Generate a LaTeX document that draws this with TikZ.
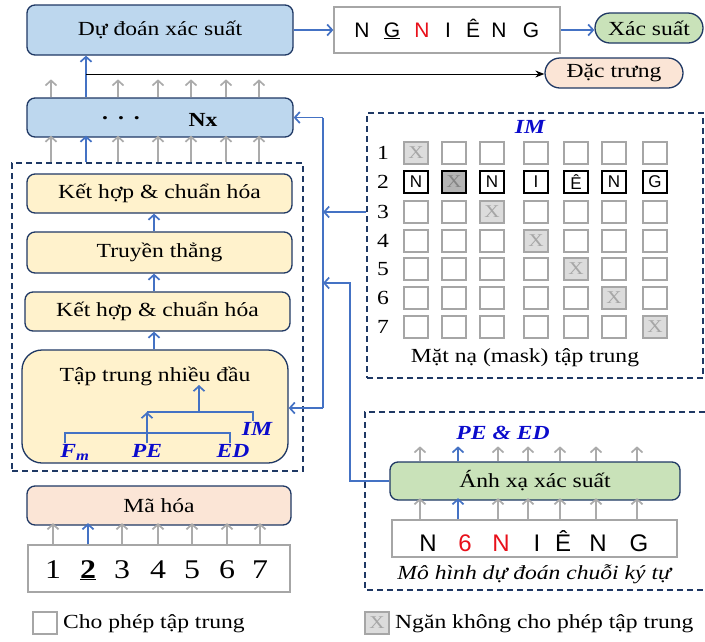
\documentclass[tikz,border=0pt]{standalone}
\usepackage{fontspec}
\setmainfont{Liberation Serif}[FakeStretch=1.18]
\newfontfamily\arial{Liberation Sans}
\usetikzlibrary{arrows.meta,calc}

\definecolor{navy}{HTML}{1F3864}
\definecolor{lblue}{HTML}{BDD7EE}
\definecolor{lyellow}{HTML}{FFF2CC}
\definecolor{lgreen}{HTML}{C9E2B9}
\definecolor{lpeach}{HTML}{FBE5D6}
\definecolor{arrblue}{HTML}{4472C4}
\definecolor{arrgray}{HTML}{ABABAB}
\definecolor{lblblue}{HTML}{0B0BCC}
\definecolor{boxgray}{HTML}{A6A6A6}
\definecolor{xfill}{HTML}{DCDCDC}
\definecolor{xdark}{HTML}{B4B4B4}
\definecolor{xtext}{HTML}{858585}
\definecolor{seqred}{HTML}{E8101A}

\begin{document}
\begin{tikzpicture}[x=1pt,y=-1pt,
  font=\fontsize{20}{24}\selectfont,
  block/.style={draw=navy, line width=1.3pt, rounded corners=8pt, inner sep=0pt},
  bluebox/.style={block, fill=lblue},
  yellowbox/.style={block, fill=lyellow},
  greenbox/.style={block, fill=lgreen},
  peachbox/.style={block, fill=lpeach},
  graybox/.style={draw=boxgray, line width=1.3pt, fill=white, inner sep=0pt},
  dashbox/.style={draw=navy, line width=1.5pt, dash pattern=on 6pt off 4pt},
  tipb/.style={-{Straight Barb[length=5pt,width=11pt]}},
  garr/.style={draw=arrgray, line width=1.7pt, tipb},
  barr/.style={draw=arrblue, line width=1.7pt, tipb},
  bline/.style={draw=arrblue, line width=1.7pt},
  kline/.style={draw=black, line width=1pt, -{Stealth[length=9pt,width=7pt]}},
  lbl/.style={text=lblblue, inner sep=1pt, font=\fontsize{20}{24}\selectfont\bfseries\itshape},
  cell/.style={draw=boxgray, line width=1.3pt, minimum width=24pt, minimum height=22pt, inner sep=0pt},
  xcell/.style={cell, fill=xfill, text=boxgray, font=\fontsize{18}{18}\selectfont},
  lcell/.style={draw=black, line width=1.6pt, minimum width=24pt, minimum height=22pt, inner sep=0pt,
                font=\arial\fontsize{17}{17}\selectfont},
  rownum/.style={inner sep=0pt}
]
\useasboundingbox (0,0) rectangle (705,641);

% ---------- top: prediction and outputs ----------
\node[bluebox, minimum width=266pt, minimum height=50pt] (pred) at (160,30) {Dự đoán xác suất};
\node[graybox, minimum width=226pt, minimum height=46pt] (seq1) at (447,30) {};
\foreach \x/\t [count=\i] in {362/N, 392/\underline{G}, 422/\textcolor{seqred}{N}, 448/I, 473/Ê, 499/N, 531/G}
  \node[anchor=base, inner sep=0pt, font=\arial\fontsize{21}{21}\selectfont] (s1\i) at (\x,37) {\t};
\node[greenbox, rounded corners=15pt, minimum width=108pt, minimum height=30pt] (prob) at (649,28) {Xác suất};
\node[peachbox, rounded corners=15pt, minimum width=138pt, minimum height=30pt] (feat) at (614,73) {Đặc trưng};

\draw[barr] (pred.east) -- (seq1.west);
\draw[barr] (seq1.east) -- (seq1.east -| prob.west);

% ---------- stacked layers ----------
\node[bluebox, minimum width=266pt, minimum height=39pt] (nx) at (160,117.5) {};
\node[inner sep=0pt] (dots) at (121,118) {\textbf{.\hspace{10pt}.\hspace{10pt}.}};
\node[inner sep=0pt] (nxl) at (203,120) {\textbf{Nx}};

\node[dashbox, minimum width=291pt, minimum height=308pt] (layer) at (157.5,317) {};
\node[yellowbox, minimum width=265pt, minimum height=39pt] (kh1) at (159.5,193.5) {Kết hợp \& chuẩn hóa};
\node[yellowbox, minimum width=265pt, minimum height=41pt] (tt)  at (159.5,252.5) {Truyền thẳng};
\node[yellowbox, minimum width=265pt, minimum height=39pt] (kh2) at (157.5,311.5) {Kết hợp \& chuẩn hóa};
\node[yellowbox, rounded corners=20pt, minimum width=266pt, minimum height=113pt] (mha) at (155,406.5) {};
\node[inner sep=1pt] (mhat) at (155,376) {Tập trung nhiều đầu};

\coordinate (mid) at (154,0);
\draw[barr] (tt.north -| mid) -- (kh1.south -| mid);
\draw[barr] (kh2.north -| mid) -- (tt.south -| mid);
\draw[barr] (mha.north -| mid) -- (kh2.south -| mid);

% inputs of the attention block
\node[lbl] (fm) at (75,452) {F\textsubscript{m}};
\node[lbl] (pe) at (147,451) {PE};
\node[lbl] (ed) at (233,451) {ED};
\node[lbl] (iml) at (257,429) {IM};
\coordinate (t1) at (65,433);
\coordinate (t2) at (230,433);
\coordinate (t3) at (147,412);
\coordinate (t4) at (253,412);
\coordinate (t5) at (199,412);
\coordinate (t6) at (199,385);
\draw[bline] (t1 |- fm.north) -- (t1) -- (t2) -- (t2 |- ed.north);
\draw[barr] (pe.north) -- (t3);
\draw[bline] (t3) -- (t4) -- (t4 |- iml.north);
\draw[barr] (t5) -- (t6);

% column arrows around the stack
\foreach \x [count=\i] in {51,86,118,158,191,226,259}
  \coordinate (L\i) at (\x,0);
\foreach \i in {1,3,4,5,6,7} {
  \draw[garr] (layer.north -| L\i) -- ([yshift=2pt]nx.south -| L\i);
  \draw[garr] (nx.north -| L\i) -- ($(nx.north -| L\i)+(0,-18)$);
}
\draw[barr] (layer.north -| L2) -- ([yshift=2pt]nx.south -| L2);
\draw[barr] (nx.north -| L2) -- (pred.south -| L2);
\coordinate (fb) at (86,74);
\draw[kline] (fb) -- (fb -| feat.west);

% ---------- encoding of positions ----------
\node[peachbox, minimum width=264pt, minimum height=39pt] (enc) at (159,505.5) {Mã hóa};
\node[graybox, minimum width=262pt, minimum height=47pt] (numbox) at (159,568.5) {};
\foreach \x/\t [count=\i] in {53/1, 88/\underline{\textbf{2}}, 122/3, 158/4, 192/5, 227/6, 260/7} {
  \coordinate (E\i) at (\x,0);
  \node[anchor=base, inner sep=0pt, font=\fontsize{27}{27}\selectfont] (d\i) at (\x,578) {\t};
}
\foreach \i in {1,3,4,5,6,7}
  \draw[garr] (numbox.north -| E\i) -- ([yshift=2.5pt]enc.south -| E\i);
\draw[barr] (numbox.north -| E2) -- ([yshift=2.5pt]enc.south -| E2);

% ---------- attention mask ----------
\node[dashbox, minimum width=336pt, minimum height=265pt] (imbox) at (535,245.5) {};
\node[lbl] (imt) at (530,127) {IM};
\foreach \y [count=\r] in {153,182,212,241,269,298,327} {
  \node[rownum] (rn\r) at (383,\y) {\r};
  \foreach \x [count=\c] in {416,454,492,536,576,614,655} {
    \ifnum\r=2\relax
    \else
      \ifnum\c=\r\relax
        \node[xcell] (g\r-\c) at (\x,\y) {X};
      \else
        \node[cell] (g\r-\c) at (\x,\y) {};
      \fi
    \fi
  }
}
\foreach \x/\t [count=\c] in {416/N, 536/I, 576/Ê, 614/N, 655/G, 492/N}
  \node[lcell] (r2l\c) at (\x,182) {\t};
\node[lcell, fill=xdark, text=xtext, font=\fontsize{18}{18}\selectfont] (r2x) at (454,182) {X};
\node[inner sep=0pt] (masktxt) at (525,358) {Mặt nạ (mask) tập trung};

% ---------- character sequence model ----------
\draw[dashbox] (705,412) -- (365,412) -- (365,590) -- (705,590);
\node[lbl] (peed) at (503,433) {PE \& ED};
\node[greenbox, minimum width=290pt, minimum height=38pt] (map) at (535,481) {Ánh xạ xác suất};
\node[graybox, minimum width=285pt, minimum height=37pt] (seq2) at (534.5,538.5) {};
\foreach \x/\t [count=\i] in {428/N, 465/\textcolor{seqred}{6}, 501/\textcolor{seqred}{N}, 537/I, 563/Ê, 598/N, 639/G}
  \node[anchor=base, inner sep=0pt, font=\arial\fontsize{24}{24}\selectfont] (s2\i) at (\x,551) {\t};
\node[inner sep=0pt] (seqtxt) at (535,574) {\textit{Mô hình dự đoán chuỗi ký tự}};
\foreach \x [count=\i] in {420,458,498,528,560,596,637}
  \coordinate (M\i) at (\x,0);
\foreach \i in {1,3,4,5,6,7} {
  \draw[garr] (seq2.north -| M\i) -- ([yshift=2.5pt]map.south -| M\i);
  \draw[garr] (map.north -| M\i) -- ($(map.north -| M\i)+(0,-15)$);
}
\draw[barr] (seq2.north -| M2) -- ([yshift=2.5pt]map.south -| M2);
\draw[barr] (map.north -| M2) -- ($(map.north -| M2)+(0,-15)$);

% ---------- feedback bus ----------
\coordinate (bt) at (323,117.5);
\coordinate (bm) at (323,212);
\coordinate (bl) at (323,283);
\coordinate (bb) at (323,408);
\coordinate (mk) at (350,283);
\draw[bline] (bb) -- (bt);
\draw[barr] (bt) -- (nx.east);
\draw[barr] (bb) -- (bb -| mha.east);
\draw[barr] (bm -| imbox.west) -- (bm);
\draw[barr] (map.west) -| (mk) -- (bl);

% ---------- legend ----------
\node[cell] (leg1) at (45,623) {};
\node[anchor=west, inner sep=0pt] (leg1t) at (63,624) {Cho phép tập trung};
\node[xcell] (leg2) at (377,623) {X};
\node[anchor=west, inner sep=0pt] (leg2t) at (395,624) {Ngăn không cho phép tập trung};
\end{tikzpicture}
\end{document}
